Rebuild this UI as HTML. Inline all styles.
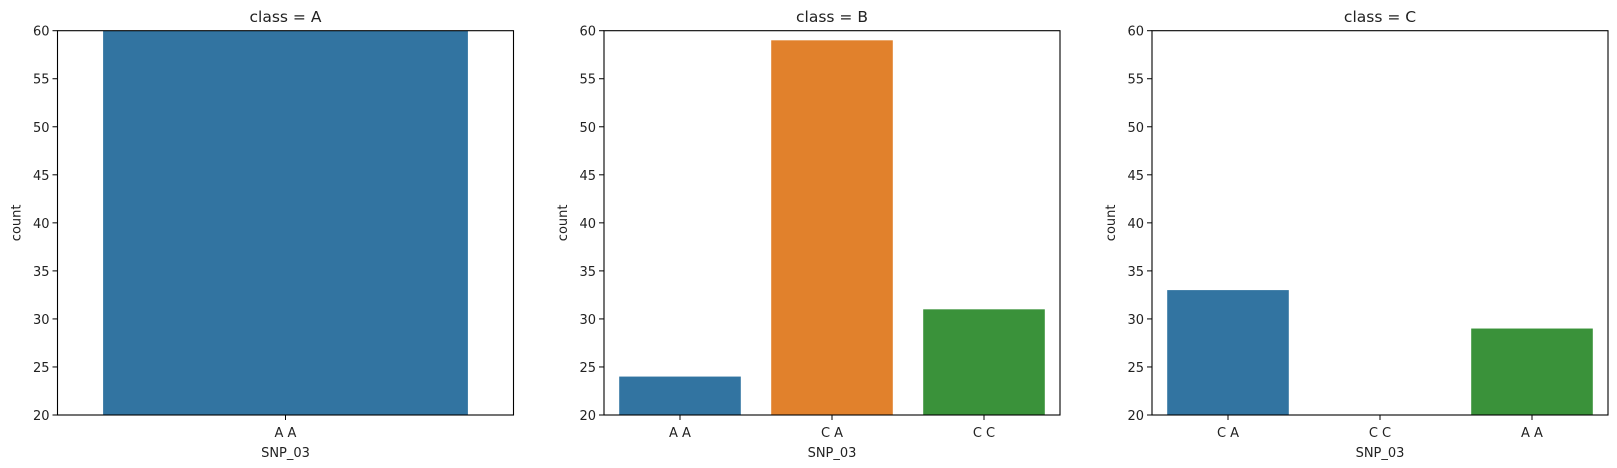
<!DOCTYPE html>
<html><head><meta charset="utf-8"><style>
body{margin:0;background:#fff;}
svg{display:block;font-family:"DejaVu Sans","Liberation Sans",sans-serif;}
</style></head><body>
<svg id="fig" width="1617" height="468" viewBox="0 0 1617 468"></svg>
<script>
const panelTitles = ["class = A", "class = B", "class = C"];
const panelCategories = [["A A"], ["A A", "C A", "C C"], ["C A", "C C", "A A"]];
const panelValues = [[70], [24, 59, 31], [33, 0, 29]];
const panelColors = [["#3274a1"], ["#3274a1", "#e1812c", "#3a923a"], ["#3274a1", "#e1812c", "#3a923a"]];
const yTicks = [20, 25, 30, 35, 40, 45, 50, 55, 60];
const yMin = 20, yMax = 60;

const NS = "http://www.w3.org/2000/svg";
const svgEl = document.getElementById("fig");
function mk(tag, attrs, parent) {
  const e = document.createElementNS(NS, tag);
  for (const k in attrs) e.setAttribute(k, attrs[k]);
  (parent || svgEl).appendChild(e);
  return e;
}
const lefts = [57.5, 604, 1152];
const W = 456, axTop = 30.7, axBottom = 415;
function yScale(v) { return axBottom - (Math.max(yMin, Math.min(yMax, v)) - yMin) / (yMax - yMin) * (axBottom - axTop); }

panelTitles.forEach((title, p) => {
  const L = lefts[p];
  const g = mk("g", {});
  
  
  const clipId = "clip" + p;
  const cp = mk("clipPath", {id: clipId}, g);
  mk("rect", {x: L, y: axTop, width: W, height: axBottom - axTop}, cp);
  const cats = panelCategories[p];
  const band = W / cats.length;
  cats.forEach((c, i) => {
    const v = panelValues[p][i];
    const x = L + band * i + band * 0.1;
    const y = yScale(v);
    if (v > yMin) {
      const r = mk("rect", {x: x, y: y, width: band * 0.8, height: axBottom - y, fill: panelColors[p][i], "clip-path": "url(#" + clipId + ")"}, g);
      
      
    }
    const cx = L + band * (i + 0.5);
    mk("line", {x1: cx, x2: cx, y1: axBottom, y2: axBottom + 5, stroke: "#000", "stroke-width": 1}, g);
    const t = mk("text", {x: cx, y: axBottom + 22, "font-size": 13, "text-anchor": "middle", fill: "#222"}, g);
    t.textContent = c;
    
    
  });
  yTicks.forEach(tv => {
    const y = yScale(tv);
    mk("line", {x1: L - 5, x2: L, y1: y, y2: y, stroke: "#000", "stroke-width": 1}, g);
    const t = mk("text", {x: L - 8, y: y + 5, "font-size": 13, "text-anchor": "end", fill: "#222"}, g);
    t.textContent = tv;
    
    
  });
  const frame = mk("rect", {x: L, y: axTop, width: W, height: axBottom - axTop, fill: "none", stroke: "#000", "stroke-width": 1.1}, g);
  
  
  const tt = mk("text", {x: L + W / 2, y: 22, "font-size": 15.5, "text-anchor": "middle", fill: "#222"}, g);
  tt.textContent = title;
  
  
  const xl = mk("text", {x: L + W / 2, y: 457, "font-size": 13, "text-anchor": "middle", fill: "#222"}, g);
  xl.textContent = "SNP_03";
  
  
  const yx = L - 37, yy = (axTop + axBottom) / 2;
  const yl = mk("text", {x: yx, y: yy, "font-size": 13, "text-anchor": "middle", fill: "#222", transform: "rotate(-90 " + yx + " " + yy + ")"}, g);
  yl.textContent = "count";
  
  
});
</script>
</body></html>
